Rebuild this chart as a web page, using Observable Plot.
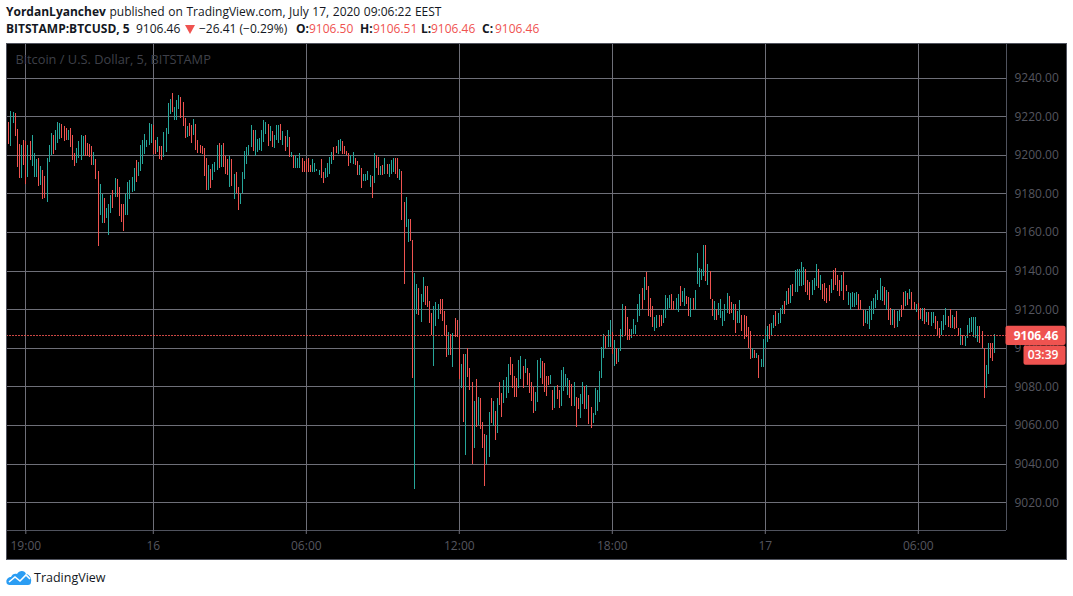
<!DOCTYPE html>
<html><head><meta charset="utf-8">
<script src="https://cdn.jsdelivr.net/npm/d3@7"></script>
<script src="https://cdn.jsdelivr.net/npm/@observablehq/plot@0.6"></script>
<style>
html,body{margin:0;padding:0;background:#fff;width:1073px;height:596px;overflow:hidden;font-family:"Open Sans",sans-serif;}
#h1,#h2{position:absolute;left:6px;white-space:nowrap;font-size:12px;color:#131722;line-height:16px;}
#h1{top:4px;word-spacing:0.5px}#h2{top:21px;left:0;height:16px;width:600px}
#h2 span{position:absolute;top:0}
#h1 b,#h2 b{font-weight:700}
#h2 .r{color:#ef5350}
#tri{position:absolute;left:185px;top:4px;width:10px;height:9px}
#chart{position:absolute;left:6px;top:43px;width:1061px;height:517px;}
#chart svg{display:block;outline:1px solid #50535e;outline-offset:-1px;}
#foot{position:absolute;left:6px;top:568px;display:flex;align-items:center;font-size:12.5px;color:#131722;height:19px;}
#foot svg{margin-right:2px}
</style></head><body>
<div id="h1"><b>YordanLyanchev</b> published on TradingView.com, July 17, 2020 09:06:22 EEST</div>
<div id="h2"><span style="left:6px"><b>BITSTAMP:BTCUSD, 5</b></span><span style="left:136px">9106.46</span><svg id="tri" viewBox="0 0 10 9"><path d="M0 0H10L5 9Z" fill="#ef5350"/></svg><span style="left:199px">−26.41 (−0.29%)</span><span style="left:296px"><b>O:</b></span><span class="r" style="left:309px">9106.50</span><span style="left:360px"><b>H:</b></span><span class="r" style="left:373px">9106.51</span><span style="left:421px"><b>L:</b></span><span class="r" style="left:431px">9106.46</span><span style="left:482px"><b>C:</b></span><span class="r" style="left:495px">9106.46</span></div>
<div id="chart"></div>
<div id="foot"><svg width="26" height="17" viewBox="0 0 26 17"><path d="M1 15 C-1 11 2 8 5 8 C6 5 9 4 11 5 C13 1 19 1 20 5 C23 5 26 9 25 13 C25 15 24 16 22 16 L3 16 Z" fill="#2b9df3"/><path d="M3 13 L9 8 L14 12 L20 6 L24 10" fill="none" stroke="#fff" stroke-width="1.6"/></svg><span>TradingView</span></div>
<script>
const highs = [
9216.9,9222.8,9222.4,9221.7,9213.6,9205.7,9205.2,9207.8,9207.4,9205.2,
9207.2,9210.3,9201,9197.9,9198.4,9194.3,9192.2,9189.1,9198.4,9205.2,
9211.4,9210.3,9212.9,9217.1,9216.6,9216,9215,9214,9212.9,9214,
9210.3,9201,9203.6,9207.2,9210.3,9209.8,9210.3,9206.2,9205.7,9204.7,
9201.6,9197.9,9191.7,9185,9179.8,9177.8,9172.6,9174.7,9179.3,9181.9,
9188.1,9187.6,9183.4,9174.7,9174.7,9179.8,9186,9187.1,9188.6,9193.3,
9197.4,9196.4,9205.2,9207.8,9210.9,9207.8,9216.6,9216,9215.5,9207.8,
9209.3,9204.7,9204.7,9211.9,9214,9226.9,9229,9232.1,9224.8,9228.4,
9231,9230,9227.4,9219.1,9215,9216.6,9215.5,9218.6,9216,9207.8,
9205.2,9204.7,9203.6,9198.4,9194.8,9192.8,9195.3,9196.4,9205.2,9206.2,
9205.2,9206.2,9199.5,9197.9,9199.5,9197.9,9190.2,9191.2,9183.4,9180.3,
9191.2,9202.1,9204.1,9205.2,9215.5,9212.9,9212.9,9208.3,9208.8,9213.1,
9217.8,9217.2,9215.7,9214.7,9212.1,9210.5,9215.2,9215.2,9216.2,9212.1,
9209.5,9212.6,9209,9201.7,9200,9199.7,9198.6,9200.7,9198.6,9196.6,
9197.9,9198.1,9194.8,9197.6,9196,9192.8,9191.9,9197.6,9190.9,9193.4,
9196,9199.1,9201.2,9203.8,9204.8,9207.9,9208.4,9206.9,9204.8,9202.2,
9200.7,9199.7,9201.2,9198.1,9196.6,9194.5,9193.4,9190.3,9190.3,9191.4,
9189.3,9188.8,9200.7,9199.7,9199.1,9194,9194.5,9198.6,9195,9195,
9197.1,9198.1,9198.6,9198.6,9192.9,9191.4,9175.8,9177.9,9166.6,9166.6,
9155.7,9138.8,9133.1,9131,9128,9136.7,9132.1,9132.1,9124.4,9118.2,
9121.8,9123.8,9122.8,9125.4,9125.4,9119.2,9112,9108.4,9106.9,9107.9,
9115.6,9114.6,9106.7,9091.4,9096.6,9096.6,9100,9089.4,9082.2,9072.4,
9083.7,9074.4,9073.9,9061.6,9055.2,9054.9,9066.7,9073.9,9072.4,9067.2,
9073.9,9082.2,9076.5,9083.2,9084.7,9091.4,9095,9091.4,9085.2,9084.2,
9093.5,9095.5,9090.4,9094,9089.4,9086.8,9082.2,9079.6,9077,9093.5,
9094.5,9093,9091.9,9085.2,9085.2,9085.8,9078,9080.1,9080.6,9078,
9088.3,9089.9,9086.3,9084.2,9083.2,9081.1,9082.2,9074.4,9073.9,9076,
9082.2,9080.1,9080.6,9075.5,9069.3,9066.2,9079.1,9078,9087.8,9100.2,
9106.9,9106.3,9109.4,9114.6,9108.4,9104.3,9099.7,9099.7,9109.9,9122.8,
9121.7,9116.1,9109.9,9109.9,9115,9112,9122.7,9127.9,9130.9,9136.6,
9139.1,9132,9125.8,9121.7,9116.1,9117.1,9117.1,9117.1,9120.2,9127.4,
9125.8,9127.4,9127.9,9124.3,9125.8,9127.9,9132,9129.4,9130.9,9126.8,
9126.3,9125.8,9125.8,9129.9,9148.9,9141.2,9140.7,9153.5,9153.5,9143.2,
9140,9125.3,9124.3,9120.2,9123.2,9125.3,9119.1,9122.7,9128.4,9126.8,
9123.8,9122.7,9122.7,9119.1,9124.8,9117.1,9117.1,9116.6,9110.9,9108.9,
9099.7,9099.1,9097.1,9096.1,9094,9104.8,9110,9111.5,9112.5,9113,
9117.1,9119.1,9118.1,9120.7,9122.2,9124.3,9129.4,9130.9,9132.5,9133,
9140.2,9140.7,9140.7,9144.3,9141.7,9140.7,9135,9134,9135,9136.1,
9143.2,9140.7,9137.6,9133,9133.5,9130.9,9132.5,9135.6,9140.2,9141.2,
9137.6,9135,9137.6,9139.1,9132.5,9128.9,9128.4,9128.9,9128.4,9128.9,
9127.9,9124.8,9119.7,9119.7,9119.1,9121.7,9124.3,9125.8,9127.9,9129.9,
9136.1,9132,9131.5,9129.9,9128.9,9120.5,9120,9119.7,9119.1,9119.7,
9122.2,9128.7,9129.2,9128.2,9130.3,9129.1,9123.9,9122.7,9123.1,9120.5,
9120.5,9120.5,9118.8,9118.5,9118.8,9118.5,9116.6,9113.7,9110.2,9113.7,
9117.1,9120.5,9116.6,9120,9117.1,9115.9,9119.1,9110.2,9110.2,9106.8,
9106,9112,9115.4,9115.9,9115.9,9115.9,9111.1,9111.4,9108.9,9100,
9091.2,9102.5,9102.5,9102.5,9107.3];
const lows = [
9205.5,9204.7,9216.7,9209.8,9193.8,9188.1,9188.1,9194.8,9185,9188.6,
9197.2,9194.3,9188.6,9188.6,9184,9184.5,9177.2,9177.8,9175.7,9196.4,
9200,9200.5,9202.6,9206.2,9208.3,9208.8,9207.2,9207.8,9207.8,9204.1,
9197.4,9194.3,9195.9,9198.4,9197.4,9199.5,9199.5,9199.5,9199,9194.8,
9194.8,9187.6,9152.9,9169,9164.8,9164.8,9167.4,9158.6,9170,9172.6,
9178.3,9178.3,9168.4,9165.3,9160.7,9168.9,9168.9,9177.2,9180.9,9181.4,
9186,9189.1,9191.7,9195.3,9200.5,9204,9205.2,9206.2,9200.5,9200.5,
9201.6,9197.9,9197.4,9199,9201.6,9210.9,9221.2,9222.2,9218.1,9218.1,
9223.8,9219.1,9215,9208.8,9209.3,9209.8,9206.2,9210.3,9202.6,9201,
9201,9200.5,9189.1,9181.9,9181.9,9182.9,9187.1,9191.2,9192.2,9193.3,
9193.8,9193.8,9190.2,9189.7,9183.4,9184,9177.2,9180.3,9171.6,9174.7,
9180.3,9187.6,9195.3,9200,9204.1,9202.1,9199.5,9201.6,9202.6,9202.2,
9206.4,9211,9204.8,9206.9,9204.3,9203.3,9207.9,9205.9,9207.9,9205.3,
9202.2,9203.8,9199.1,9199.1,9193.4,9193.4,9193.4,9193.4,9190.9,9190.9,
9190.9,9190.9,9190.9,9190.9,9190.9,9191.4,9189.3,9187.8,9185.2,9187.8,
9188.3,9190.3,9195,9197.1,9200.7,9200.2,9202.2,9200.2,9200.2,9199.7,
9194,9195.5,9195,9194.5,9189.3,9189.3,9182.6,9186.2,9186.2,9186.7,
9183.1,9177.4,9185.2,9193.4,9189.3,9189.3,9189.3,9189.8,9190.3,9188.3,
9189.8,9190.9,9190.3,9187.8,9187.2,9166,9133.1,9162.4,9154.7,9155.2,
9084.2,9026.6,9117.7,9117.2,9113.6,9123.8,9122.3,9121.3,9113,9106.7,
9090.4,9111.5,9115.1,9117.7,9114.1,9106.7,9095,9096.1,9096.1,9089.9,
9105.8,9105.8,9084,9079.1,9061.6,9044.6,9084.7,9078,9040,9048.2,
9059,9060,9058,9048.2,9028.3,9040,9043.6,9061,9059.5,9052.3,
9055.9,9070.3,9064.2,9071.4,9073.9,9076.5,9085.8,9079.1,9074.4,9074.4,
9079.1,9083.7,9079.1,9086.8,9080.6,9076.5,9072.4,9066.2,9067.2,9071.9,
9084.2,9081.1,9077,9075,9080.6,9081.1,9067.8,9068.8,9073.4,9068.8,
9069.8,9077.5,9080.1,9075.5,9073.9,9069.8,9069.8,9059,9068.3,9063.6,
9070.8,9068.3,9068.3,9060.5,9058.5,9061,9065.2,9067.2,9071.9,9084.2,
9094.5,9099.7,9100.2,9100.2,9096.6,9090.4,9091.4,9092.5,9098.6,9105.8,
9106.8,9104.3,9104.3,9105.3,9107.4,9107.4,9113.5,9116.6,9120.2,9124.8,
9129.9,9116.6,9116.1,9110.9,9108.9,9110.4,9110.9,9111.5,9113,9115.6,
9119.7,9120.7,9119.7,9119.7,9119.7,9118.6,9121.7,9123.8,9121.7,9122.7,
9116.6,9116.1,9119.7,9119.7,9133,9131.5,9135,9137.1,9134.5,9132.5,
9125.3,9116.6,9114.5,9114.5,9117.1,9115.6,9111.5,9114,9118.1,9117.6,
9118.1,9114.5,9107.9,9113,9113,9108.9,9104.8,9105.8,9099.7,9094,
9094.5,9094.5,9094.5,9084.3,9089.9,9089.9,9100,9103.2,9104.8,9106.8,
9110.4,9111.5,9112.5,9113,9117.6,9117.6,9122.2,9122.7,9123.2,9126.8,
9128.9,9128.9,9132,9132,9132.5,9128.9,9127.4,9124.8,9127.4,9129.9,
9132,9130.9,9129.9,9125.3,9124.3,9123.2,9124.3,9128.4,9129.9,9132.5,
9129.4,9126.8,9129.4,9124.8,9129.4,9122.2,9119.7,9121.2,9121.2,9122.2,
9119.7,9119.7,9111.5,9113,9112.5,9109.9,9114.5,9117.6,9120.7,9124.8,
9124.8,9124.3,9122.2,9119.7,9114.5,9112,9111.6,9110.2,9110.8,9113.7,
9115.9,9119.7,9121.9,9122.2,9125.1,9119.7,9119.7,9118.8,9114.5,9114.9,
9113.7,9112.5,9113.3,9112,9111.4,9112.8,9109.9,9106.8,9104.9,9106.8,
9109,9111.6,9111,9110.4,9110.2,9109.7,9110.2,9106.3,9101.7,9101.2,
9100.8,9105.1,9107.7,9108.2,9105.6,9105.1,9102.9,9102.5,9100,9073.8,
9079.4,9086.3,9094.5,9093.1,9097.4];
const dirs = (
"RGGRRRGRRG"+"RGGGRGRRGG"+"GRGGGRRRGR"+"RRGGGGRRRR"+"GRRGGRGGGR"+"GRRRRGGGGG"+
"RGGGGGGGRR"+"GRRGGGGRGG"+"GRRRGRRGRR"+"RRRRGRGGGR"+"GRRRGRGRRG"+"GGGGGRGGGG"+
"GGRGRGGGRG"+"RGRGRGGGRR"+"RRRGGGGRRG"+"GGGRRGGRRR"+"RGGRRGRGGG"+"GRGRRGRGRG"+
"GGRRGRRGGR"+"RGGRGGRRRR"+"GGGRRRRGRG"+"RRRGRGRRRG"+"RGRRRGGRGR"+"GRRGGGRRRR"+
"GGRGRRRRGG"+"GRRRRGRGRR"+"GGGGRRGRRG"+"GRGRRGGGGG"+"GRGGRGRGGG"+"RRRGGGGGRG"+
"RRRRGGRRGG"+"GGRRGGRGGR"+"RGRGGGGGRG"+"RRGRGGGGGR"+"RGRGGRRRRR"+"GRGRGGGGRG"+
"GRGGGRGRGR"+"GGGGGRRRGG"+"GRGRRRRGRR"+"RRGRRGGGGG"+"RRRGGGGGGG"+"GGRGRRGRGG"+
"RRGRGRRGRR"+"GRGRGGRRRG"+"GGRRGRRRGR"+"GGGGGGGRRR"+"GGRRG").split("");

const priceTicks = [9240,9220,9200,9180,9160,9140,9120,9100,9080,9060,9040,9020];
const timeTicks = ["2020-07-15T19:00Z","2020-07-16T00:00Z","2020-07-16T06:00Z","2020-07-16T12:00Z","2020-07-16T18:00Z","2020-07-17T00:00Z","2020-07-17T06:00Z"];
const timeLabels = ["19:00","16","06:00","12:00","18:00","17","06:00"];
const lastPrice = 9106.46;
const firstBar = Date.UTC(2020,6,15,18,20);
const barMs = 5*60000;
const colorUp = "#26a69a", colorDown = "#ef5350";

const bars = highs.map((h,i)=>({t:new Date(firstBar+i*barMs),h,l:lows[i],d:dirs[i]}));
const tickDates = timeTicks.map(s=>new Date(s));
const labelOf = new Map(tickDates.map((d,i)=>[+d,timeLabels[i]]));

// chart pane: 25.5 px per hour, 1.93 px per dollar
const hour = 3600000, mid = Date.UTC(2020,6,16);
const xStart = new Date(mid - 147.3/25.5*hour), xEnd = new Date(mid + 852.7/25.5*hour);
const xPast = px => new Date(+xEnd + px/25.5*hour);
const yTop = 9100 + 305.3/1.93, yBottom = 9100 - 181.7/1.93;
const dimText = "#55565f", gridCol = "#6e6f78", axisCol = "#50535e", font = "Open Sans";

const chart = Plot.plot({
  width:1061, height:517, marginLeft:0, marginRight:61, marginTop:0, marginBottom:30,
  style:{background:"#000",fontFamily:font,fontSize:"12px",overflow:"visible"},
  x:{type:"utc",domain:[xStart,xEnd],range:[-0.5,999.5]},
  y:{domain:[yBottom,yTop],range:[486.5,-0.5]},
  marks:[
    Plot.ruleY(priceTicks,{stroke:gridCol,shapeRendering:"crispEdges"}),
    Plot.ruleX(tickDates,{stroke:gridCol,shapeRendering:"crispEdges"}),
    Plot.text(["Bitcoin / U.S. Dollar, 5, BITSTAMP"],{frameAnchor:"top-left",dx:9,dy:11,textAnchor:"start",fill:"#3f4049",fontSize:12.8,fontWeight:500,text:d=>d}),
    Plot.ruleX(bars,{x:"t",y1:"l",y2:"h",stroke:d=>d.d==="G"?colorUp:colorDown,strokeWidth:1,shapeRendering:"crispEdges"}),
    Plot.ruleY([yBottom],{stroke:axisCol,shapeRendering:"crispEdges"}),
    Plot.ruleX([xEnd],{stroke:axisCol,shapeRendering:"crispEdges"}),
    Plot.axisX({ticks:tickDates,tickSize:4,tickPadding:7,tickFormat:d=>labelOf.get(+d),label:null,fill:dimText,stroke:gridCol,fontSize:12}),
    Plot.axisY({anchor:"right",ticks:priceTicks,tickSize:0,tickPadding:8,textAnchor:"start",tickFormat:d=>d.toFixed(2),label:null,fill:dimText,fontSize:12}),
    Plot.ruleY([lastPrice],{stroke:colorDown,strokeDasharray:"2,1",strokeWidth:1,strokeOpacity:0.85,shapeRendering:"crispEdges"}),
    Plot.rect([0],{x1:xEnd,x2:xPast(60),y1:lastPrice-5,y2:lastPrice+5,fill:colorDown,rx:2}),
    Plot.rect([0],{x1:xPast(18),x2:xPast(60),y1:lastPrice-15.2,y2:lastPrice-5.3,fill:colorDown,rx:2}),
    Plot.text([lastPrice.toFixed(2)],{x:xPast(30),y:lastPrice,text:d=>d,fill:"#fff",fontWeight:700,fontSize:12}),
    Plot.text(["03:39"],{x:xPast(37),y:lastPrice-10.2,text:d=>d,fill:"#fff",fontWeight:600,fontSize:12})
  ]
});
document.getElementById("chart").append(chart);
</script>
</body></html>
